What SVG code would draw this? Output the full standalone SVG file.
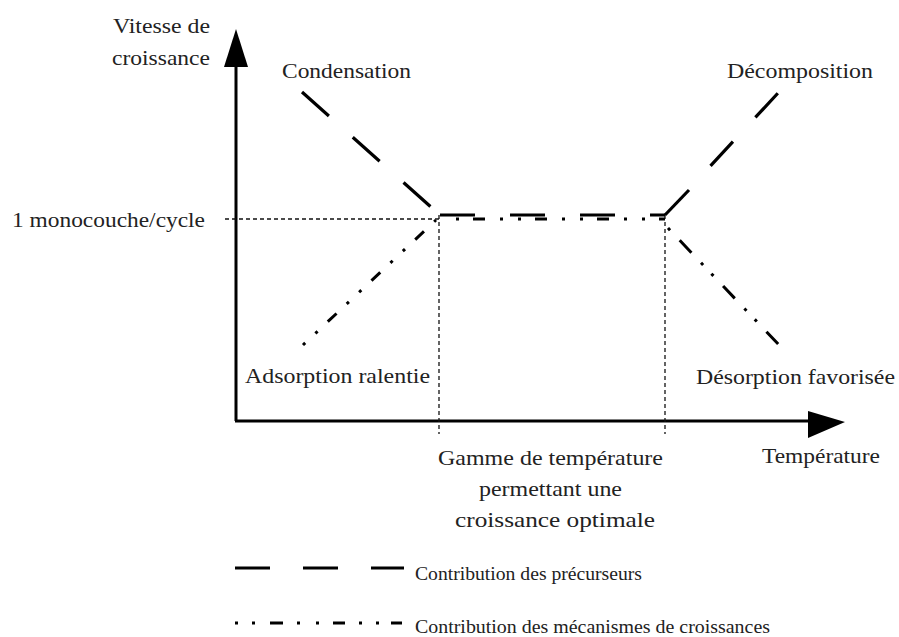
<svg xmlns="http://www.w3.org/2000/svg" width="899" height="637" viewBox="0 0 899 637">
<style>
text{font-family:"Liberation Serif","Times New Roman",serif;fill:#222;font-size:21px}
.lg{font-size:18px}
.axis{stroke:#000;stroke-width:3;fill:none}
.guide{stroke:#111;stroke-width:1.3;stroke-dasharray:4 3;fill:none}
.prec{stroke:#000;stroke-width:3.2;fill:none}
.mech{stroke:#000;stroke-width:3;fill:none}
</style>
<rect width="899" height="637" fill="#fff"/>
<g id="axes">
<line class="axis" x1="236" y1="421" x2="236" y2="60"/>
<polygon points="236,29 224,67 248,67" fill="#000"/>
<line class="axis" x1="235" y1="421" x2="815" y2="421"/>
<polygon points="845,422 808,411 808,438" fill="#000"/>
</g>
<g id="connectors">
<line class="guide" x1="225" y1="219" x2="439" y2="219"/>
<line class="guide" x1="439" y1="215" x2="439" y2="434"/>
<line class="guide" x1="665" y1="215" x2="665" y2="434"/>
<line class="prec" x1="302" y1="92" x2="440" y2="215" stroke-dasharray="36 32"/>
<line class="prec" x1="440" y1="215" x2="665" y2="215" stroke-width="1.8" stroke-dasharray="35 35"/>
<line class="prec" x1="665" y1="215" x2="689" y2="190" stroke-width="1.8"/>
<line class="prec" x1="665" y1="215" x2="778" y2="93" stroke-dasharray="0 67 33 33 33 50"/>
<line class="mech" x1="303" y1="345" x2="436" y2="220" stroke-dasharray="3 14 3 14 12 14"/>
<line class="mech" x1="456" y1="219" x2="665" y2="219" stroke-dasharray="3 14 12 15 3 15"/>
<line class="mech" x1="668" y1="228" x2="780" y2="346" stroke-dasharray="3 14 17 14 3 12"/>
</g>
<g id="labels">
<text x="210" y="33" text-anchor="end" textLength="97" lengthAdjust="spacingAndGlyphs">Vitesse de</text>
<text x="210" y="65" text-anchor="end" textLength="98" lengthAdjust="spacingAndGlyphs">croissance</text>
<text x="282" y="78" textLength="129" lengthAdjust="spacingAndGlyphs">Condensation</text>
<text x="727" y="78" textLength="146" lengthAdjust="spacingAndGlyphs">Décomposition</text>
<text x="12" y="227" textLength="193" lengthAdjust="spacingAndGlyphs">1 monocouche/cycle</text>
<text x="245" y="383" textLength="185" lengthAdjust="spacingAndGlyphs">Adsorption ralentie</text>
<text x="696" y="384" textLength="199" lengthAdjust="spacingAndGlyphs">Désorption favorisée</text>
<text x="762" y="463" textLength="118" lengthAdjust="spacingAndGlyphs">Température</text>
<text x="438" y="465" textLength="225" lengthAdjust="spacingAndGlyphs">Gamme de température</text>
<text x="479" y="496" textLength="143" lengthAdjust="spacingAndGlyphs">permettant une</text>
<text x="455" y="527" textLength="200" lengthAdjust="spacingAndGlyphs">croissance optimale</text>
</g>
<g id="legend">
<line class="prec" x1="235" y1="568" x2="404" y2="568" stroke-dasharray="35 33"/>
<line class="mech" x1="235" y1="623" x2="404" y2="623" stroke-dasharray="3 14 3 15 13 14 3 16 3 14 12 14 3 14 3 12 11"/>
<text class="lg" x="415" y="580" textLength="227" lengthAdjust="spacingAndGlyphs">Contribution des précurseurs</text>
<text class="lg" x="415" y="633" textLength="355" lengthAdjust="spacingAndGlyphs">Contribution des mécanismes de croissances</text>
</g>
</svg>
